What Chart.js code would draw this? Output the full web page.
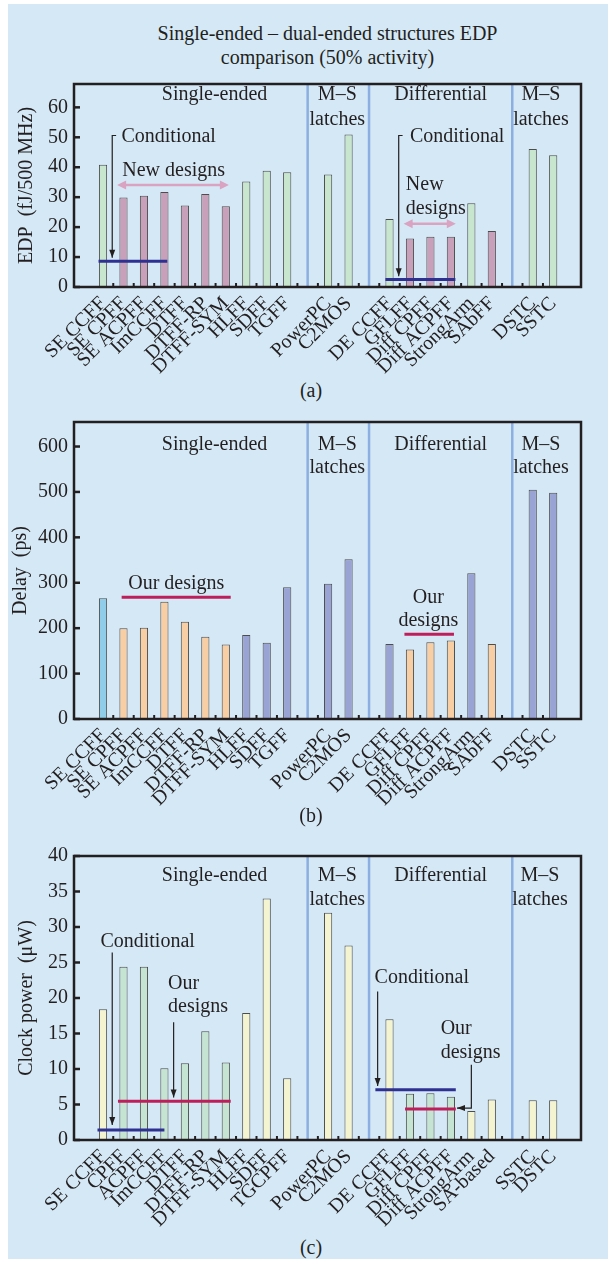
<!DOCTYPE html>
<html lang="en">
<head>
<meta charset="UTF-8">
<title>Single-ended – dual-ended structures</title>
<script src="https://cdn.jsdelivr.net/npm/chart.js"></script>
<style>
    body { margin: 0; background: #fff; }
    .pagina { position: relative; width: 608px; height: 1262px; overflow: hidden; }
    .painel { position: absolute; left: 8px; top: 4px; right: 0; bottom: 3px; background: #d5e8f6; }
    .texto { position: absolute; font-family: 'Liberation Serif', 'Times New Roman', serif; font-size: 20px; line-height: 24px; color: #231f20; text-align: center; }
    .grafico { position: absolute; left: 0; width: 608px; }
</style>
</head>
<body>
<div class="pagina">
    <div class="painel"></div>
    <div class="texto" style="left:117px; width:421px; top:21px;">Single-ended – dual-ended structures EDP<br>comparison (50% activity)</div>

    <div class="grafico" style="top:66px; height:311px;"><canvas id="graficoEDP"></canvas></div>
    <div class="texto" style="left:261px; width:100px; top:378px;">(a)</div>

    <div class="grafico" style="top:404px; height:403px;"><canvas id="graficoAtraso"></canvas></div>
    <div class="texto" style="left:261px; width:100px; top:803px;">(b)</div>

    <div class="grafico" style="top:838px; height:392px;"><canvas id="graficoPotencia"></canvas></div>
    <div class="texto" style="left:261px; width:100px; top:1235px;">(c)</div>
</div>

<script>
    const fonteSerif = "'Liberation Serif', 'Times New Roman', serif";
    Chart.defaults.font.family = fonteSerif;
    Chart.defaults.color = '#231f20';

    // Categorias (slots vazios = divisórias entre grupos)
    const categoriasAB = ['SE CCFF', 'SE CPFF', 'SE ACPFF', 'ImCCFF', 'DTFF', 'DTFF-RP', 'DTFF-SYM', 'HLFF', 'SDFF', 'TGFF', '',
        'PowerPC', 'C2MOS', '', 'DE CCFF', 'GFLFF', 'Diff CPFF', 'Diff ACPFF', 'StrongArm', 'SAbFF', '', 'DSTC', 'SSTC'];
    const categoriasC = ['SE CCFF', 'CPFF', 'ACPFF', 'ImCCFF', 'DTFF', 'DTFF-RP', 'DTFF-SYM', 'HLFF', 'SDFF', 'TGCPFF', '',
        'PowerPC', 'C2MOS', '', 'DE CCFF', 'GFLFF', 'Diff CPFF', 'Diff ACPFF', 'StrongArm', 'SA-based', '', 'SSTC', 'DSTC'];

    // Valores
    const valoresEDP = [40.8, 29.9, 30.5, 31.7, 27.2, 31.1, 27.0, 35.2, 38.8, 38.3, null,
        37.6, 50.9, null, 22.7, 16.2, 16.8, 16.8, 28.0, 18.7, null, 46.1, 44.0];
    const valoresAtraso = [266, 200, 201, 258, 214, 181, 164, 185, 168, 290, null,
        298, 352, null, 165, 153, 169, 173, 321, 165, null, 505, 498];
    const valoresPotencia = [18.4, 24.4, 24.4, 10.1, 10.8, 15.3, 10.9, 17.9, 34.0, 8.7, null,
        32.0, 27.4, null, 17.0, 6.5, 6.6, 6.1, 4.1, 5.7, null, 5.6, 5.6];

    // Ticks do eixo y
    const ticksEDP = [0, 10, 20, 30, 40, 50, 60];
    const ticksAtraso = [0, 100, 200, 300, 400, 500, 600];
    const ticksPotencia = [0, 5, 10, 15, 20, 25, 30, 35, 40];

    // Novos projetos (destacados)
    const novosAB = ['SE CPFF', 'SE ACPFF', 'ImCCFF', 'DTFF', 'DTFF-RP', 'DTFF-SYM', 'GFLFF', 'Diff CPFF', 'Diff ACPFF', 'SAbFF'];
    const novosC = ['CPFF', 'ACPFF', 'ImCCFF', 'DTFF', 'DTFF-RP', 'DTFF-SYM', 'GFLFF', 'Diff CPFF', 'Diff ACPFF'];

    const separadores = [10, 13, 20];

    // Anotações: [texto, x, y, alinhamento]
    const rotulosA = [
        ['Single-ended', 5.45, 64.2, 'center'], ['M–S', 11.45, 64.2, 'center'], ['latches', 11.45, 56.0, 'center'],
        ['Differential', 16.5, 64.2, 'center'], ['M–S', 21.4, 64.2, 'center'], ['latches', 21.4, 56.0, 'center'],
        ['Conditional', 0.9, 50.2, 'left'], ['New designs', 3.45, 38.8, 'center'],
        ['Conditional', 15.0, 50.2, 'left'], ['New', 14.8, 34.0, 'left'], ['designs', 14.8, 26.3, 'left']
    ];
    const rotulosB = [
        ['Single-ended', 5.45, 605, 'center'], ['M–S', 11.45, 605, 'center'], ['latches', 11.45, 553, 'center'],
        ['Differential', 16.5, 605, 'center'], ['M–S', 21.4, 605, 'center'], ['latches', 21.4, 553, 'center'],
        ['Our designs', 3.58, 297, 'center'], ['Our', 15.9, 268, 'center'], ['designs', 15.9, 216, 'center']
    ];
    const rotulosC = [
        ['Single-ended', 5.45, 37.2, 'center'], ['M–S', 11.45, 37.2, 'center'], ['latches', 11.45, 33.9, 'center'],
        ['Differential', 16.5, 37.2, 'center'], ['M–S', 21.35, 37.2, 'center'], ['latches', 21.35, 33.9, 'center'],
        ['Conditional', 2.18, 27.97, 'center'], ['Our', 3.18, 22.05, 'left'], ['designs', 3.18, 18.8, 'left'],
        ['Conditional', 13.27, 22.8, 'left'], ['Our', 16.5, 15.7, 'left'], ['designs', 16.5, 12.3, 'left']
    ];

    // Linhas de média: [x inicial, x final, valor, tipo]
    const mediasA = [[-0.22, 3.14, 8.6, 'cond'], [13.8, 17.22, 2.5, 'cond']];
    const mediasB = [[0.91, 6.24, 268, 'novo'], [14.73, 17.15, 186.5, 'novo']];
    const mediasC = [[-0.27, 3.0, 1.4, 'cond'], [0.73, 6.24, 5.46, 'novo'], [13.31, 17.24, 7.07, 'cond'], [14.76, 17.24, 4.35, 'novo']];

    // Setas duplas (rosa) e setas simples
    const duplasA = [[0.69, 6.15, 34.1], [14.69, 17.24, 21.1]];
    const setasA = [[[0.64, 50.6], [0.45, 50.6], [0.45, 9.8]], [[14.64, 50.6], [14.45, 50.6], [14.45, 3.6]]];
    const setasC = [[[0.45, 26.4], [0.45, 2.1]], [[3.45, 16.6], [3.45, 6.0]],
        [[13.42, 20.9], [13.42, 7.6]], [[18.0, 10.6], [18.0, 4.5], [17.3, 4.5]]];

    const corLinha = { cond: '#2e3192', novo: '#be1e5a' };

    function ponta(ctx, x0, y0, x1, y1, comp, larg) {
        const ang = Math.atan2(y1 - y0, x1 - x0);
        ctx.beginPath();
        ctx.moveTo(x1, y1);
        ctx.lineTo(x1 - comp * Math.cos(ang) + larg * Math.sin(ang), y1 - comp * Math.sin(ang) - larg * Math.cos(ang));
        ctx.lineTo(x1 - comp * Math.cos(ang) - larg * Math.sin(ang), y1 - comp * Math.sin(ang) + larg * Math.cos(ang));
        ctx.closePath();
        ctx.fill();
    }

    function criarExtras(cfg, categorias) {
        return {
            id: 'extras',
            beforeDatasetsDraw(chart) {
                const { ctx, chartArea: a, scales: { x } } = chart;
                ctx.save();
                ctx.strokeStyle = '#8cafe1';
                ctx.lineWidth = 2.5;
                separadores.forEach(s => {
                    const px = x.getPixelForValue(s);
                    ctx.beginPath(); ctx.moveTo(px, a.top); ctx.lineTo(px, a.bottom); ctx.stroke();
                });
                ctx.restore();
            },
            afterDatasetsDraw(chart) {
                const { ctx, chartArea: a, scales: { x, y } } = chart;
                ctx.save();

                (cfg.medias || []).forEach(([x0, x1, v, tipo]) => {
                    const py = y.getPixelForValue(v);
                    ctx.strokeStyle = corLinha[tipo];
                    ctx.lineWidth = 3;
                    ctx.beginPath(); ctx.moveTo(x.getPixelForValue(x0), py); ctx.lineTo(x.getPixelForValue(x1), py); ctx.stroke();
                });

                (cfg.duplas || []).forEach(([x0, x1, v]) => {
                    const p0 = x.getPixelForValue(x0), p1 = x.getPixelForValue(x1), py = y.getPixelForValue(v);
                    ctx.strokeStyle = ctx.fillStyle = '#d9a3c1';
                    ctx.lineWidth = 2.5;
                    ctx.beginPath(); ctx.moveTo(p0 + 6, py); ctx.lineTo(p1 - 6, py); ctx.stroke();
                    ponta(ctx, p1, py, p0, py, 9, 4.5);
                    ponta(ctx, p0, py, p1, py, 9, 4.5);
                });

                (cfg.setas || []).forEach(pts => {
                    const px = pts.map(([vx, vy]) => [x.getPixelForValue(vx), y.getPixelForValue(vy)]);
                    const n = px.length;
                    ctx.strokeStyle = ctx.fillStyle = '#231f20';
                    ctx.lineWidth = 1.2;
                    ctx.beginPath();
                    ctx.moveTo(px[0][0], px[0][1]);
                    for (let i = 1; i < n; i++) ctx.lineTo(px[i][0], px[i][1]);
                    ctx.stroke();
                    ponta(ctx, px[n - 2][0], px[n - 2][1], px[n - 1][0], px[n - 1][1], 8, 3);
                });

                ctx.font = '20px ' + fonteSerif;
                ctx.fillStyle = '#231f20';
                ctx.textBaseline = 'middle';
                (cfg.rotulos || []).forEach(([t, vx, vy, al]) => {
                    ctx.textAlign = al;
                    ctx.fillText(t, x.getPixelForValue(vx), y.getPixelForValue(vy));
                });

                // moldura e marcas
                ctx.strokeStyle = '#231f20';
                ctx.lineWidth = 2.5;
                ctx.strokeRect(a.left, a.top, a.right - a.left, a.bottom - a.top);
                y.ticks.forEach(t => {
                    const py = y.getPixelForValue(t.value);
                    ctx.beginPath(); ctx.moveTo(a.left, py); ctx.lineTo(a.left + 6, py); ctx.stroke();
                });
                ctx.lineWidth = 2;
                for (let i = 0; i < categorias.length - 1; i++) {
                    const px = x.getPixelForValue(i + 0.5);
                    ctx.beginPath(); ctx.moveTo(px, a.bottom); ctx.lineTo(px, a.bottom - 4); ctx.stroke();
                }
                ctx.restore();
            }
        };
    }

    function criarGrafico(id, categorias, valores, corDe, eixo, cfg) {
        const pontos = [];
        valores.forEach((v, i) => { if (v !== null) pontos.push({ x: i, y: v }); });

        return new Chart(document.getElementById(id), {
            type: 'bar',
            data: {
                datasets: [{
                    data: pontos,
                    backgroundColor: pontos.map(p => corDe(categorias[p.x])),
                    borderColor: '#4d4d4d',
                    borderWidth: 1,
                    barPercentage: 0.4,
                    categoryPercentage: 1
                }]
            },
            options: {
                responsive: true,
                maintainAspectRatio: false,
                animation: false,
                layout: { padding: { top: eixo.topo, right: 27, left: 0, bottom: 0 } },
                plugins: { legend: { display: false }, tooltip: { enabled: false } },
                scales: {
                    x: {
                        type: 'linear', min: -0.88, max: 22.82, bounds: 'data',
                        grid: { display: false, drawTicks: false }, border: { display: false },
                        afterBuildTicks: s => { s.ticks = categorias.map((c, i) => ({ value: i })); },
                        afterFit: s => { s.height = eixo.rodape; },
                        ticks: {
                            autoSkip: false, minRotation: 45, maxRotation: 45, padding: 5,
                            font: { size: 20 }, color: '#231f20',
                            callback: v => categorias[v]
                        }
                    },
                    y: {
                        min: 0, max: eixo.max, bounds: 'data',
                        grid: { display: false, drawTicks: false }, border: { display: false },
                        afterBuildTicks: s => { s.ticks = eixo.ticks.map(v => ({ value: v })); },
                        afterFit: s => { s.width = 74; },
                        ticks: { padding: 6, font: { size: 20 }, color: '#231f20' },
                        title: { display: true, text: eixo.titulo, font: { size: 20 }, color: '#231f20', padding: { top: eixo.recuo, bottom: 0 } }
                    }
                }
            },
            plugins: [criarExtras(cfg, categorias)]
        });
    }

    criarGrafico('graficoEDP', categoriasAB, valoresEDP,
        nome => novosAB.includes(nome) ? '#c9a0b9' : '#c8e6cd',
        { topo: 13, rodape: 90, max: 67.8, ticks: ticksEDP, titulo: 'EDP  (fJ/500 MHz)', recuo: 15 },
        { rotulos: rotulosA, medias: mediasA, duplas: duplasA, setas: setasA });

    criarGrafico('graficoAtraso', categoriasAB, valoresAtraso,
        nome => nome === 'SE CCFF' ? '#8fcde8' : (novosAB.includes(nome) ? '#f8cea5' : '#99a3d4'),
        { topo: 14, rodape: 88, max: 654, ticks: ticksAtraso, titulo: 'Delay  (ps)', recuo: 9 },
        { rotulos: rotulosB, medias: mediasB });

    criarGrafico('graficoPotencia', categoriasC, valoresPotencia,
        nome => novosC.includes(nome) ? '#c5e4d2' : '#f5f4d0',
        { topo: 14, rodape: 90, max: 40, ticks: ticksPotencia, titulo: 'Clock power  (μW)', recuo: 15 },
        { rotulos: rotulosC, medias: mediasC, setas: setasC });
</script>
</body>
</html>
